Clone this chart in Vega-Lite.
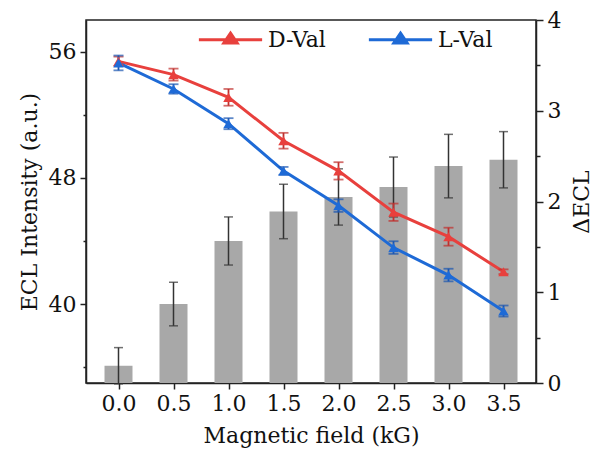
{
  "$schema": "https://vega.github.io/schema/vega-lite/v6.json",
  "width": 450,
  "height": 363,
  "autosize": {"type": "none"},
  "padding": {"left": 86, "top": 20, "right": 57, "bottom": 79},
  "background": "white",
  "config": {
    "view": {"stroke": "#222", "strokeWidth": 1.5},
    "font": "DejaVu Serif",
    "axis": {
      "labelFont": "DejaVu Serif", "titleFont": "DejaVu Serif",
      "labelFontSize": 22, "titleFontSize": 22, "titleFontWeight": "normal",
      "labelColor": "#111", "titleColor": "#111",
      "domainColor": "#222", "tickColor": "#222", "domainWidth": 1.5, "tickWidth": 1.5,
      "grid": false
    },
    "legend": {"labelFont": "DejaVu Serif", "labelFontSize": 22, "labelColor": "#111"}
  },
  "datasets": {
    "bars": [
      {"x": 0.0, "dECL": 0.19, "err": 0.2},
      {"x": 0.5, "dECL": 0.87, "err": 0.24},
      {"x": 1.0, "dECL": 1.565, "err": 0.265},
      {"x": 1.5, "dECL": 1.89, "err": 0.3},
      {"x": 2.0, "dECL": 2.05, "err": 0.31},
      {"x": 2.5, "dECL": 2.16, "err": 0.33},
      {"x": 3.0, "dECL": 2.39, "err": 0.35},
      {"x": 3.5, "dECL": 2.46, "err": 0.31}
    ],
    "lines": [
      {"x": 0.0, "series": "D-Val", "value": 55.38, "err": 0.3},
      {"x": 0.5, "series": "D-Val", "value": 54.54, "err": 0.38},
      {"x": 1.0, "series": "D-Val", "value": 53.1, "err": 0.53},
      {"x": 1.5, "series": "D-Val", "value": 50.35, "err": 0.5},
      {"x": 2.0, "series": "D-Val", "value": 48.44, "err": 0.55},
      {"x": 2.5, "series": "D-Val", "value": 45.82, "err": 0.55},
      {"x": 3.0, "series": "D-Val", "value": 44.27, "err": 0.57},
      {"x": 3.5, "series": "D-Val", "value": 42.05, "err": 0.15},
      {"x": 0.0, "series": "L-Val", "value": 55.28, "err": 0.47},
      {"x": 0.5, "series": "L-Val", "value": 53.63, "err": 0.3},
      {"x": 1.0, "series": "L-Val", "value": 51.43, "err": 0.35},
      {"x": 1.5, "series": "L-Val", "value": 48.44, "err": 0.25},
      {"x": 2.0, "series": "L-Val", "value": 46.24, "err": 0.4},
      {"x": 2.5, "series": "L-Val", "value": 43.58, "err": 0.4},
      {"x": 3.0, "series": "L-Val", "value": 41.84, "err": 0.4},
      {"x": 3.5, "series": "L-Val", "value": 39.56, "err": 0.35}
    ]
  },
  "layer": [
    {
      "data": {"name": "bars"},
      "encoding": {
        "x": {"field": "x", "type": "quantitative",
          "scale": {"domain": [-0.25, 3.75], "nice": false, "zero": false},
          "axis": {"values": [0, 0.5, 1, 1.5, 2, 2.5, 3, 3.5], "format": ".1f", "title": "Magnetic field (kG)", "tickSize": 6, "labelPadding": 4, "titlePadding": 11}},
        "y": {"field": "dECL", "type": "quantitative",
          "scale": {"domain": [0, 4], "nice": false, "zero": true},
          "axis": {"orient": "right", "title": "ΔECL", "titleAngle": 270, "titleBaseline": "top",
            "values": [0, 0.5, 1, 1.5, 2, 2.5, 3, 3.5, 4],
            "labelExpr": "datum.value % 1 == 0 ? format(datum.value, 'd') : ''",
            "tickSize": {"condition": {"test": "datum.value % 1 == 0", "value": 7}, "value": 4},
            "labelPadding": 4, "titlePadding": 11}}
      },
      "layer": [
        {"mark": {"type": "bar", "size": 28, "color": "#a8a8a8"}},
        {"mark": {"type": "errorbar", "color": "#333333", "thickness": 1.5, "ticks": {"size": 9, "thickness": 1.5}},
         "encoding": {"yError": {"field": "err"}}}
      ]
    },
    {
      "data": {"name": "lines"},
      "encoding": {
        "x": {"field": "x", "type": "quantitative"},
        "y": {"field": "value", "type": "quantitative",
          "scale": {"domain": [35, 58], "nice": false, "zero": false},
          "axis": {"orient": "left", "title": "ECL Intensity (a.u.)",
            "values": [36, 40, 44, 48, 52, 56],
            "labelExpr": "datum.value % 8 == 0 ? datum.label : ''",
            "tickSize": {"condition": {"test": "datum.value % 8 == 0", "value": 6}, "value": 3},
            "labelPadding": 4, "titlePadding": 7}}
      },
      "layer": [
        {"mark": {"type": "line", "strokeWidth": 3},
         "encoding": {"color": {"field": "series", "type": "nominal",
           "scale": {"domain": ["D-Val", "L-Val"], "range": ["#e8403d", "#1e6ad6"]},
           "legend": {"orient": "none", "legendX": 111, "legendY": -14, "direction": "horizontal", "title": null,
             "symbolType": "M-1,0H1M0,-0.21L0.21,0.1L-0.21,0.1Z", "symbolSize": 4000, "symbolStrokeWidth": 3,
             "labelOffset": 4, "columnPadding": 36, "padding": 0,
             "encode": {"symbols": {"update": {"fill": {"scale": "color", "field": "value"}, "stroke": {"scale": "color", "field": "value"}, "fillOpacity": {"value": 1}}}}}}}},
        {"transform": [{"filter": "datum.series == 'D-Val'"}],
         "mark": {"type": "errorbar", "color": "#c0302e", "thickness": 1.8, "ticks": {"size": 10, "thickness": 1.8}},
         "encoding": {"yError": {"field": "err"}}},
        {"transform": [{"filter": "datum.series == 'L-Val'"}],
         "mark": {"type": "errorbar", "color": "#1a55b0", "thickness": 1.8, "ticks": {"size": 10, "thickness": 1.8}},
         "encoding": {"yError": {"field": "err"}}},
        {"mark": {"type": "point", "shape": "triangle-up", "filled": true, "size": 110, "opacity": 1},
         "encoding": {"color": {"field": "series", "type": "nominal"}}}
      ]
    }
  ],
  "resolve": {"scale": {"y": "independent"}}
}
